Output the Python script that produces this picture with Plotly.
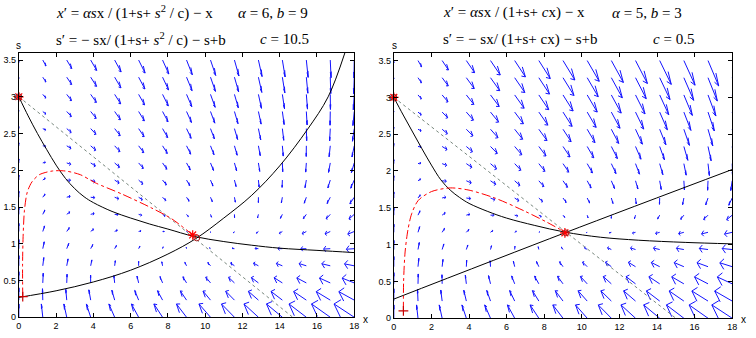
import plotly.graph_objects as go

# ---------------- data ----------------
X_GRID = [0, 1.286, 2.571, 3.857, 5.143, 6.429, 7.714, 9.0, 10.286, 11.571, 12.857, 14.143, 15.429, 16.714, 18.0]
S_GRID = [0, 0.233, 0.467, 0.7, 0.933, 1.167, 1.4, 1.633, 1.867, 2.1, 2.333, 2.567, 2.8, 3.033, 3.267, 3.5]

X_TICKS = [0, 2, 4, 6, 8, 10, 12, 14, 16, 18]
Y_TICKS = [0, 0.5, 1, 1.5, 2, 2.5, 3, 3.5]
Y_TICK_TEXT = ["0", "0.5", "1", "1.5", "2", "2.5", "3", "3.5"]

# left panel direction field (rows: s from 0 to 3.5, columns: x from 0 to 18)
U_LEFT = [
    [0, -1.29, -2.57, -3.86, -5.14, -6.43, -7.71, -9.0, -10.29, -11.57, -12.86, -14.14, -15.43, -16.71, -18.0],
    [0, -0.28, -0.86, -1.63, -2.51, -3.47, -4.50, -5.57, -6.67, -7.80, -8.95, -10.12, -11.30, -12.5, -13.7],
    [0, 0.40, 0.30, -0.10, -0.71, -1.45, -2.30, -3.23, -4.21, -5.23, -6.29, -7.37, -8.48, -9.62, -10.77],
    [0, 0.90, 1.15, 1.01, 0.60, 0.01, -0.70, -1.52, -2.41, -3.35, -4.35, -5.38, -6.43, -7.52, -8.63],
    [0, 1.28, 1.79, 1.85, 1.59, 1.13, 0.51, -0.23, -1.05, -1.93, -2.87, -3.86, -4.88, -5.93, -7.0],
    [0, 1.57, 2.30, 2.51, 2.37, 2.0, 1.46, 0.79, 0.02, -0.82, -1.72, -2.66, -3.66, -4.68, -5.73],
    [0, 1.81, 2.70, 3.04, 3.0, 2.71, 2.23, 1.61, 0.89, 0.09, -0.78, -1.70, -2.67, -3.67, -4.70],
    [0, 2.01, 3.04, 3.47, 3.52, 3.29, 2.86, 2.28, 1.60, 0.83, -0.02, -0.91, -1.86, -2.84, -3.86],
    [0, 2.17, 3.32, 3.84, 3.95, 3.77, 3.39, 2.85, 2.19, 1.45, 0.63, -0.24, -1.17, -2.14, -3.14],
    [0, 2.31, 3.56, 4.15, 4.32, 4.19, 3.84, 3.33, 2.70, 1.98, 1.18, 0.32, -0.60, -1.55, -2.54],
    [0, 2.43, 3.77, 4.42, 4.64, 4.54, 4.23, 3.75, 3.14, 2.44, 1.65, 0.81, -0.10, -1.04, -2.02],
    [0, 2.53, 3.94, 4.65, 4.91, 4.85, 4.56, 4.10, 3.51, 2.83, 2.06, 1.22, 0.33, -0.60, -1.57],
    [0, 2.63, 4.10, 4.86, 5.15, 5.12, 4.86, 4.42, 3.85, 3.17, 2.41, 1.59, 0.71, -0.21, -1.18],
    [0, 2.71, 4.24, 5.04, 5.37, 5.36, 5.12, 4.70, 4.14, 3.48, 2.73, 1.92, 1.05, 0.14, -0.83],
    [0, 2.78, 4.36, 5.20, 5.56, 5.58, 5.35, 4.95, 4.40, 3.75, 3.02, 2.21, 1.35, 0.44, -0.52],
    [0, 2.84, 4.47, 5.34, 5.72, 5.76, 5.55, 5.16, 4.63, 3.99, 3.26, 2.46, 1.60, 0.70, -0.25],
]
V_LEFT = [
    [3.0, 3.0, 3.0, 3.0, 3.0, 3.0, 3.0, 3.0, 3.0, 3.0, 3.0, 3.0, 3.0, 3.0, 3.0],
    [2.77, 2.57, 2.43, 2.32, 2.24, 2.18, 2.12, 2.08, 2.04, 2.01, 1.99, 1.96, 1.94, 1.92, 1.91],
    [2.53, 2.20, 1.96, 1.78, 1.65, 1.54, 1.45, 1.38, 1.32, 1.26, 1.22, 1.18, 1.14, 1.11, 1.09],
    [2.3, 1.86, 1.56, 1.33, 1.15, 1.01, 0.90, 0.80, 0.73, 0.66, 0.60, 0.55, 0.50, 0.46, 0.43],
    [2.07, 1.55, 1.19, 0.93, 0.72, 0.56, 0.42, 0.31, 0.22, 0.14, 0.07, 0.01, -0.04, -0.09, -0.13],
    [1.83, 1.26, 0.86, 0.56, 0.33, 0.15, 0.0, -0.12, -0.23, -0.32, -0.39, -0.46, -0.52, -0.57, -0.62],
    [1.6, 0.98, 0.55, 0.22, -0.03, -0.23, -0.39, -0.52, -0.64, -0.73, -0.82, -0.89, -0.95, -1.01, -1.06],
    [1.37, 0.71, 0.24, -0.10, -0.37, -0.58, -0.75, -0.89, -1.01, -1.11, -1.20, -1.28, -1.35, -1.41, -1.46],
    [1.13, 0.44, -0.05, -0.41, -0.69, -0.91, -1.09, -1.24, -1.36, -1.47, -1.57, -1.65, -1.72, -1.78, -1.84],
    [0.9, 0.18, -0.33, -0.70, -0.99, -1.22, -1.41, -1.57, -1.70, -1.81, -1.91, -1.99, -2.07, -2.13, -2.19],
    [0.67, -0.08, -0.60, -0.99, -1.29, -1.53, -1.72, -1.88, -2.02, -2.13, -2.23, -2.32, -2.40, -2.47, -2.53],
    [0.43, -0.33, -0.87, -1.27, -1.58, -1.82, -2.02, -2.19, -2.33, -2.45, -2.55, -2.64, -2.72, -2.79, -2.85],
    [0.2, -0.58, -1.13, -1.54, -1.86, -2.11, -2.31, -2.48, -2.63, -2.75, -2.85, -2.95, -3.03, -3.10, -3.17],
    [-0.03, -0.83, -1.40, -1.81, -2.14, -2.39, -2.60, -2.77, -2.92, -3.04, -3.15, -3.25, -3.33, -3.40, -3.47],
    [-0.27, -1.08, -1.65, -2.08, -2.41, -2.67, -2.88, -3.06, -3.21, -3.33, -3.44, -3.54, -3.62, -3.70, -3.76],
    [-0.5, -1.33, -1.91, -2.34, -2.67, -2.94, -3.15, -3.33, -3.48, -3.61, -3.72, -3.82, -3.91, -3.98, -4.05],
]

# right panel direction field
U_RIGHT = [
    [0, -1.29, -2.57, -3.86, -5.14, -6.43, -7.71, -9.0, -10.29, -11.57, -12.86, -14.14, -15.43, -16.71, -18.0],
    [0, -0.43, -1.25, -2.24, -3.32, -4.46, -5.63, -6.83, -8.04, -9.27, -10.5, -11.75, -13.0, -14.25, -15.5],
    [0, 0.23, -0.17, -0.87, -1.74, -2.71, -3.76, -4.86, -5.99, -7.14, -8.32, -9.51, -10.71, -11.93, -13.15],
    [0, 0.75, 0.73, 0.31, -0.35, -1.16, -2.07, -3.06, -4.10, -5.17, -6.28, -7.41, -8.57, -9.74, -10.92],
    [0, 1.16, 1.48, 1.32, 0.87, 0.23, -0.54, -1.41, -2.35, -3.34, -4.38, -5.45, -6.55, -7.66, -8.8],
    [0, 1.51, 2.12, 2.21, 1.96, 1.49, 0.86, 0.11, -0.73, -1.64, -2.60, -3.60, -4.63, -5.70, -6.79],
    [0, 1.80, 2.68, 2.99, 2.94, 2.62, 2.14, 1.5, 0.77, -0.04, -0.93, -1.85, -2.83, -3.83, -4.87],
    [0, 2.05, 3.16, 3.69, 3.81, 3.66, 3.30, 2.79, 2.16, 1.44, 0.65, -0.21, -1.12, -2.07, -3.05],
    [0, 2.26, 3.59, 4.30, 4.61, 4.60, 4.39, 3.99, 3.46, 2.84, 2.12, 1.35, 0.50, -0.38, -1.31],
    [0, 2.45, 3.97, 4.87, 5.33, 5.47, 5.38, 5.10, 4.68, 4.15, 3.52, 2.82, 2.05, 1.22, 0.35],
    [0, 2.61, 4.31, 5.37, 5.99, 6.27, 6.31, 6.14, 5.82, 5.39, 4.84, 4.21, 3.51, 2.75, 1.94],
    [0, 2.76, 4.61, 5.83, 6.59, 7.01, 7.17, 7.12, 6.90, 6.55, 6.09, 5.53, 4.91, 4.21, 3.45],
    [0, 2.88, 4.89, 6.25, 7.15, 7.70, 7.97, 8.03, 7.91, 7.65, 7.27, 6.79, 6.23, 5.60, 4.91],
    [0, 3.0, 5.14, 6.63, 7.67, 8.33, 8.72, 8.89, 8.86, 8.69, 8.39, 8.0, 7.50, 6.94, 6.31],
    [0, 3.10, 5.36, 6.98, 8.14, 8.92, 9.43, 9.69, 9.75, 9.68, 9.46, 9.13, 8.71, 8.21, 7.64],
    [0, 3.20, 5.57, 7.31, 8.58, 9.48, 10.08, 10.45, 10.61, 10.61, 10.48, 10.22, 9.87, 9.44, 8.93],
]
V_RIGHT = [
    [3.0, 3.0, 3.0, 3.0, 3.0, 3.0, 3.0, 3.0, 3.0, 3.0, 3.0, 3.0, 3.0, 3.0, 3.0],
    [2.77, 2.60, 2.50, 2.44, 2.40, 2.37, 2.35, 2.33, 2.32, 2.31, 2.30, 2.29, 2.28, 2.27, 2.27],
    [2.53, 2.23, 2.05, 1.94, 1.85, 1.79, 1.74, 1.70, 1.67, 1.65, 1.63, 1.61, 1.59, 1.58, 1.56],
    [2.3, 1.89, 1.64, 1.47, 1.34, 1.25, 1.17, 1.11, 1.06, 1.02, 0.99, 0.95, 0.93, 0.91, 0.88],
    [2.07, 1.58, 1.26, 1.03, 0.86, 0.73, 0.63, 0.55, 0.48, 0.42, 0.37, 0.33, 0.29, 0.26, 0.23],
    [1.83, 1.27, 0.89, 0.62, 0.41, 0.25, 0.12, 0.01, -0.08, -0.15, -0.22, -0.28, -0.33, -0.37, -0.41],
    [1.6, 0.98, 0.55, 0.23, -0.02, -0.21, -0.37, -0.5, -0.61, -0.71, -0.79, -0.86, -0.92, -0.98, -1.03],
    [1.37, 0.70, 0.22, -0.14, -0.42, -0.65, -0.84, -0.99, -1.12, -1.24, -1.33, -1.42, -1.50, -1.56, -1.62],
    [1.13, 0.42, -0.10, -0.50, -0.82, -1.07, -1.29, -1.46, -1.62, -1.75, -1.86, -1.96, -2.05, -2.13, -2.20],
    [0.9, 0.15, -0.41, -0.85, -1.19, -1.48, -1.72, -1.92, -2.09, -2.24, -2.38, -2.49, -2.60, -2.69, -2.77],
    [0.67, -0.11, -0.71, -1.18, -1.56, -1.87, -2.14, -2.36, -2.56, -2.72, -2.87, -3.00, -3.12, -3.23, -3.32],
    [0.43, -0.38, -1.00, -1.50, -1.91, -2.25, -2.54, -2.79, -3.00, -3.19, -3.36, -3.50, -3.63, -3.75, -3.86],
    [0.2, -0.63, -1.29, -1.82, -2.26, -2.63, -2.94, -3.21, -3.44, -3.64, -3.83, -3.99, -4.13, -4.26, -4.38],
    [-0.03, -0.89, -1.57, -2.13, -2.60, -2.99, -3.32, -3.61, -3.86, -4.09, -4.28, -4.46, -4.62, -4.76, -4.89],
    [-0.27, -1.15, -1.85, -2.44, -2.92, -3.34, -3.69, -4.0, -4.28, -4.52, -4.73, -4.92, -5.10, -5.25, -5.40],
    [-0.5, -1.40, -2.13, -2.73, -3.25, -3.68, -4.06, -4.39, -4.68, -4.94, -5.17, -5.37, -5.56, -5.73, -5.89],
]

# nullclines, trajectories, conservation lines
LEFT_SNULL_X = [0, 0.5, 1.0, 1.5, 2.0, 2.5, 3.0, 3.5, 4.0, 5.0, 6.0, 7.0, 8.0, 9.4, 11.0, 12.5, 14.0, 16.0, 18.0]
LEFT_SNULL_S = [3.0, 2.74, 2.5, 2.28, 2.07, 1.89, 1.75, 1.64, 1.56, 1.44, 1.35, 1.27, 1.2, 1.1, 1.03, 0.98, 0.94, 0.91, 0.88]
LEFT_XNULL_X = [0, 2.0, 4.0, 6.0, 8.0, 9.5, 11.0, 12.5, 14.0, 15.5, 16.6, 17.5]
LEFT_XNULL_S = [0.27, 0.36, 0.48, 0.64, 0.86, 1.07, 1.35, 1.66, 2.06, 2.56, 3.0, 3.6]
LEFT_TRAJ_X = [0.21, 0.2, 0.23, 0.3, 0.45, 0.7, 1.1, 1.8, 2.5, 3.3, 4.1, 5.5, 7.1, 8.2, 9.33]
LEFT_TRAJ_S = [0.28, 0.7, 1.1, 1.45, 1.7, 1.84, 1.94, 1.99, 1.99, 1.94, 1.83, 1.68, 1.49, 1.34, 1.12]
LEFT_CONS_X = [0, 14.7]
LEFT_CONS_S = [3.0, 0]

RIGHT_SNULL_X = [0, 0.5, 1.0, 1.5, 2.0, 2.5, 3.0, 3.5, 4.0, 5.0, 6.0, 7.5, 9.1, 11.0, 13.0, 15.5, 18.0]
RIGHT_SNULL_S = [3.0, 2.76, 2.53, 2.3, 2.08, 1.88, 1.74, 1.64, 1.56, 1.45, 1.36, 1.26, 1.17, 1.1, 1.06, 1.03, 1.01]
RIGHT_XNULL_X = [0, 9.1, 18.0]
RIGHT_XNULL_S = [0.26, 1.16, 2.02]
RIGHT_TRAJ_X = [0.51, 0.52, 0.6, 0.75, 0.95, 1.3, 2.0, 3.0, 4.0, 5.4, 7.0, 8.1, 9.1]
RIGHT_TRAJ_S = [0.1, 0.5, 0.9, 1.2, 1.42, 1.6, 1.72, 1.77, 1.74, 1.63, 1.45, 1.31, 1.17]
RIGHT_CONS_X = [0, 15.0]
RIGHT_CONS_S = [3.0, 0]

LEFT_START = (0.21, 0.28)
LEFT_END = (9.33, 1.12)
LEFT_EQ = (9.55, 1.08)
RIGHT_START = (0.51, 0.1)
RIGHT_END = (9.1, 1.16)
RIGHT_EQ = (9.15, 1.16)
WASHOUT = (0, 3.0)

# ---------------- styling ----------------
ARROW_SCALE = 0.0602
HEAD_A = 0.33
HEAD_B = 0.33
W, H = 756, 338


def quiver_lines(U, V):
    xs, ys = [], []
    for i, s in enumerate(S_GRID):
        for j, x in enumerate(X_GRID):
            u = U[i][j] * ARROW_SCALE
            v = V[i][j] * ARROW_SCALE
            xs += [x, x + u, None]
            ys += [s, s + v, None]
            xs += [x + u - HEAD_A * (u + HEAD_B * v), x + u, x + u - HEAD_A * (u - HEAD_B * v), None]
            ys += [s + v - HEAD_A * (v - HEAD_B * u), s + v, s + v - HEAD_A * (v + HEAD_B * u), None]
    return xs, ys


fig = go.Figure()

panels = [
    ("x", "y", U_LEFT, V_LEFT, LEFT_SNULL_X, LEFT_SNULL_S, LEFT_XNULL_X, LEFT_XNULL_S,
     LEFT_TRAJ_X, LEFT_TRAJ_S, LEFT_CONS_X, LEFT_CONS_S, LEFT_START, LEFT_END, LEFT_EQ),
    ("x2", "y2", U_RIGHT, V_RIGHT, RIGHT_SNULL_X, RIGHT_SNULL_S, RIGHT_XNULL_X, RIGHT_XNULL_S,
     RIGHT_TRAJ_X, RIGHT_TRAJ_S, RIGHT_CONS_X, RIGHT_CONS_S, RIGHT_START, RIGHT_END, RIGHT_EQ),
]

for (xa, ya, U, V, snx, sns, xnx, xns, tx, ts, cx, cs, st, en, eq) in panels:
    qx, qy = quiver_lines(U, V)
    fig.add_trace(go.Scatter(x=qx, y=qy, mode="lines", xaxis=xa, yaxis=ya,
                             line=dict(color="rgb(20,20,255)", width=1), hoverinfo="skip"))
    fig.add_trace(go.Scatter(x=cx, y=cs, mode="lines", xaxis=xa, yaxis=ya,
                             line=dict(color="rgb(120,135,125)", width=1, dash="dot")))
    fig.add_trace(go.Scatter(x=snx, y=sns, mode="lines", xaxis=xa, yaxis=ya,
                             line=dict(color="black", width=1, shape="spline", smoothing=1.0)))
    fig.add_trace(go.Scatter(x=xnx, y=xns, mode="lines", xaxis=xa, yaxis=ya,
                             line=dict(color="black", width=1, shape="spline", smoothing=1.0)))
    fig.add_trace(go.Scatter(x=tx, y=ts, mode="lines", xaxis=xa, yaxis=ya,
                             line=dict(color="red", width=1, dash="dashdot", shape="spline", smoothing=0.8)))
    fig.add_trace(go.Scatter(x=[st[0]], y=[st[1]], mode="markers", xaxis=xa, yaxis=ya,
                             marker=dict(symbol="cross-thin", size=7, color="rgb(200,0,0)",
                                         line=dict(color="rgb(200,0,0)", width=1.2))))
    fig.add_trace(go.Scatter(x=[en[0], WASHOUT[0]], y=[en[1], WASHOUT[1]], mode="markers", xaxis=xa, yaxis=ya,
                             marker=dict(symbol="asterisk-open", size=8, color="red",
                                         line=dict(color="red", width=1.2)),
                             cliponaxis=False))
    fig.add_trace(go.Scatter(x=[eq[0], WASHOUT[0]], y=[eq[1], WASHOUT[1]], mode="markers", xaxis=xa, yaxis=ya,
                             marker=dict(symbol="circle-open", size=6, color="rgb(170,30,30)",
                                         line=dict(color="rgb(170,30,30)", width=1)),
                             cliponaxis=False))

tickfont = dict(family="Liberation Sans, Arial, sans-serif", size=9, color="black")
common_x = dict(range=[0, 18], tickvals=X_TICKS, ticks="inside", ticklen=4, tickcolor="black",
                mirror="ticks", showline=True, linecolor="black", linewidth=1, showgrid=False,
                zeroline=False, tickfont=tickfont, fixedrange=True)
common_y = dict(range=[0, 3.6], tickvals=Y_TICKS, ticktext=Y_TICK_TEXT, ticks="inside", ticklen=4,
                tickcolor="black", mirror="ticks", showline=True, linecolor="black", linewidth=1,
                showgrid=False, zeroline=False, tickfont=tickfont, fixedrange=True)

fig.update_layout(
    width=W, height=H, margin=dict(l=0, r=0, t=0, b=0),
    paper_bgcolor="white", plot_bgcolor="white", showlegend=False,
    xaxis=dict(common_x, domain=[16 / W, 355 / W], anchor="y"),
    yaxis=dict(common_y, domain=[(H - 322) / H, (H - 53.5) / H], anchor="x"),
    xaxis2=dict(common_x, domain=[395 / W, 737 / W], anchor="y2"),
    yaxis2=dict(common_y, domain=[(H - 323) / H, (H - 54) / H], anchor="x2"),
)

serif = dict(family="Liberation Serif, Times New Roman, serif", size=15, color="black")
sans = dict(family="Liberation Sans, Arial, sans-serif", size=10, color="black")


def ann(text, px, py, font, xanchor="left"):
    fig.add_annotation(text=text, x=px / W, y=1 - py / H, xref="paper", yref="paper",
                       xanchor=xanchor, yanchor="middle", showarrow=False, font=font)


ann("<i>x</i>′ = <i>αs</i>x / (1+s+ <i>s</i><sup>2</sup> / c) − x", 52, 13, serif)
ann("<i>α</i> = 6, <i>b</i> = 9", 235, 13, serif)
ann("s′ = − sx/ (1+s+ <i>s</i><sup>2</sup> / c) − s+b", 52, 40, serif)
ann("<i>c</i> = 10.5", 258, 40, serif)

ann("<i>x</i>′ = <i>αs</i>x / (1+s+ <i>c</i>x) − x", 443, 13, serif)
ann("<i>α</i> = 5, <i>b</i> = 3", 613, 13, serif)
ann("s′ = − sx/ (1+s+ cx) − s+b", 443, 40, serif)
ann("<i>c</i> = 0.5", 655, 40, serif)

ann("s", 16, 46, sans, "center")
ann("x", 366, 324, sans, "center")
ann("s", 396, 46, sans, "center")
ann("x", 748, 324, sans, "center")

fig.write_html("out.html")
